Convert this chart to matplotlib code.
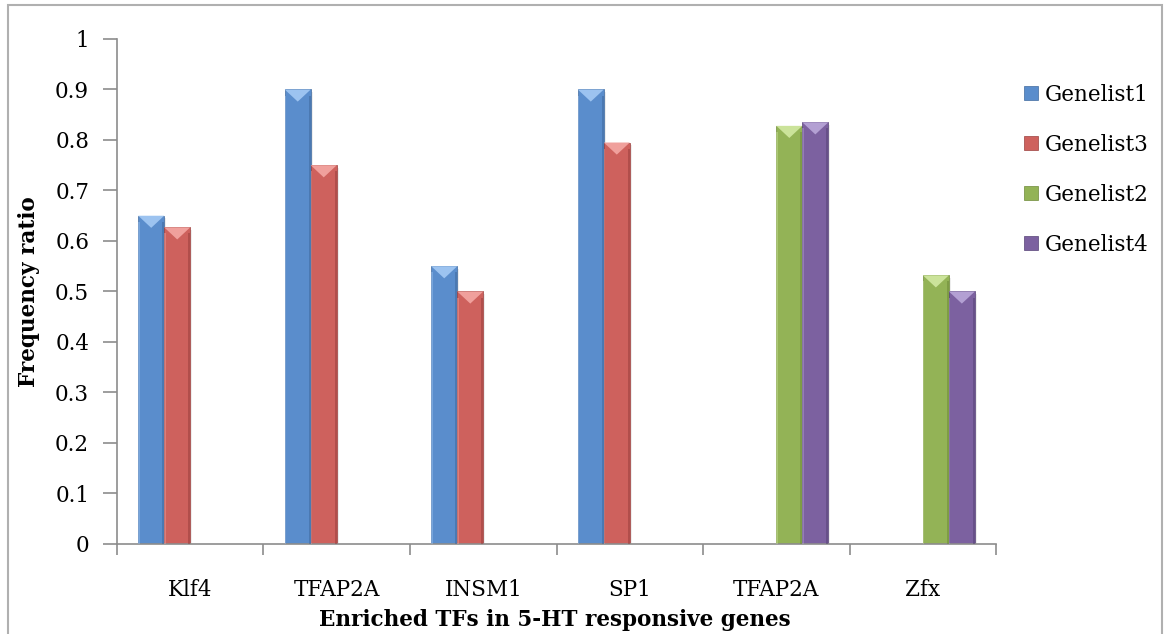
import matplotlib
matplotlib.use('Agg')
import matplotlib.pyplot as plt
from matplotlib.patches import Polygon, Rectangle
import numpy as np

# data
categories = ['Klf4', 'TFAP2A', 'INSM1', 'SP1', 'TFAP2A', 'Zfx']
series = ['Genelist1', 'Genelist3', 'Genelist2', 'Genelist4']
genelist1 = [0.65, 0.90, 0.55, 0.90, np.nan, np.nan]
genelist3 = [0.627, 0.75, 0.50, 0.795, np.nan, np.nan]
genelist2 = [np.nan, np.nan, np.nan, np.nan, 0.828, 0.532]
genelist4 = [np.nan, np.nan, np.nan, np.nan, 0.835, 0.50]
colors = ['#5A8DCC', '#CE615D', '#93B356', '#7C61A0']
light = ['#9CC3F0', '#F0A09C', '#CBE39A', '#B3A0D3']
dark = ['#3F6A9E', '#9A403D', '#6E8A38', '#574377']

plt.rcParams['font.family'] = ['DejaVu Serif']
fig = plt.figure(figsize=(11.66, 6.34), dpi=100)
ax = fig.add_axes([0.1003, 0.142, 0.754, 0.7965])

# outer frame of the chart
fig.patches.append(Rectangle((8 / 1166, -0.01), 1154 / 1166, 1 - 5 / 634 + 0.01,
                             transform=fig.transFigure, fill=False,
                             edgecolor='#B0B0B0', linewidth=1.5))

x = np.arange(len(categories)) + 0.5
w = 0.1775
vals = [genelist1, genelist3, genelist2, genelist4]
for k, v in enumerate(vals):
    # four slots per category, like Excel leaves room for every series
    bars = ax.bar(x + (k - 2) * w, v, width=w, align='edge', color=colors[k],
                  edgecolor=dark[k], linewidth=0.5, label=series[k], zorder=2)
    for p in bars.patches:
        h = p.get_height()
        if not np.isfinite(h) or h == 0:
            continue
        x0 = p.get_x()
        x1 = x0 + p.get_width()
        d = 0.024
        # bevel highlight on top
        ax.add_patch(Polygon([(x0, h), (x1, h), ((x0 + x1) / 2, h - d)],
                             closed=True, facecolor=light[k], edgecolor='none', zorder=3))
        # side shading
        ax.add_patch(Rectangle((x1 - 0.014, 0), 0.014, h - d / 2, facecolor=dark[k],
                               edgecolor='none', alpha=0.55, zorder=3))
        ax.add_patch(Rectangle((x0, 0), 0.01, h - d / 2, facecolor=light[k],
                               edgecolor='none', alpha=0.45, zorder=3))
        # soft shadow
        ax.add_patch(Rectangle((x1, 0), 0.014, h - 0.005, facecolor='#000000',
                               edgecolor='none', alpha=0.07, zorder=1))

ax.set_xlim(0, len(categories))
ax.set_ylim(0, 1)
ax.set_yticks(np.arange(0, 1.01, 0.1))
ax.set_yticklabels(['0', '0.1', '0.2', '0.3', '0.4', '0.5', '0.6', '0.7', '0.8', '0.9', '1'])
ax.set_xticks(np.arange(0, len(categories) + 1))
ax.set_xticklabels([])
ax.set_xticks(x, minor=True)
ax.set_xticklabels(categories, minor=True)
ax.tick_params(axis='x', which='minor', length=0, pad=25, labelsize=15.5)
ax.tick_params(axis='x', which='major', length=8, color='#8C8C8C', width=1.2)
ax.tick_params(axis='y', length=10, color='#8C8C8C', width=1.2, labelsize=15.5, pad=10)

for s in ['top', 'right']:
    ax.spines[s].set_visible(False)
for s in ['left', 'bottom']:
    ax.spines[s].set_color('#8C8C8C')
    ax.spines[s].set_linewidth(1.2)

ax.set_xlabel('Enriched TFs in 5-HT responsive genes', fontsize=15.5, fontweight='bold')
ax.set_ylabel('Frequency ratio', fontsize=15.5, fontweight='bold')
ax.xaxis.set_label_coords(0.498, -0.128)
ax.yaxis.set_label_coords(-0.0876, 0.5)

leg = ax.legend(loc='upper left', bbox_to_anchor=(1.01, 0.95), frameon=False, fontsize=15.5,
                handlelength=0.65, handleheight=0.65, handletextpad=0.3, labelspacing=1.3)

fig.savefig('out.png')
